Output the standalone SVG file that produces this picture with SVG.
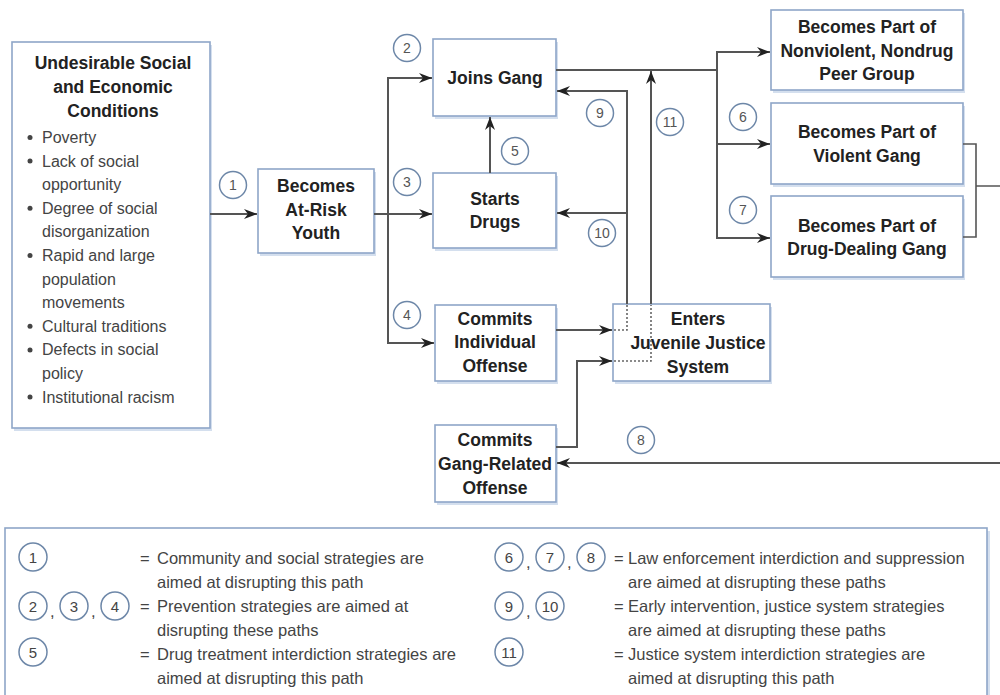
<svg xmlns="http://www.w3.org/2000/svg" width="1000" height="695" viewBox="0 0 1000 695">
<defs>
<marker id="arr" markerUnits="userSpaceOnUse" markerWidth="14" markerHeight="10" refX="13" refY="5" orient="auto">
<path d="M0,0 L13,5 L0,10 L4,5 Z" fill="#222"/>
</marker>
</defs>
<style>
.bg{fill:#ffffff}
.sh{fill:#d4dfee}
.box{fill:#ffffff;stroke:#8ea6c8;stroke-width:1.6}
.t{font-family:"Liberation Sans",Arial,sans-serif;font-weight:bold;font-size:17.5px;fill:#222;text-anchor:middle}
.b{font-family:"Liberation Sans",Arial,sans-serif;font-size:16px;fill:#444}
.lg{font-family:"Liberation Sans",Arial,sans-serif;font-size:16.5px;fill:#444}
.c{fill:#ffffff;stroke:#6d87a8;stroke-width:1.5}
.cn{font-family:"Liberation Sans",Arial,sans-serif;font-size:14px;fill:#555;text-anchor:middle}
.cl{font-family:"Liberation Sans",Arial,sans-serif;font-size:15px;fill:#444;text-anchor:middle}
.ln{fill:none;stroke:#555;stroke-width:2}
.dot{fill:none;stroke:#666;stroke-width:1.6;stroke-dasharray:2,2}
.dt{fill:#444}
</style>
<rect class="bg" x="0" y="0" width="1000" height="695"/>

<g id="conditions">
<rect class="sh" x="14" y="45" width="198" height="386"/>
<rect class="box" x="12" y="42" width="198" height="386"/>
<text class="t" x="113" y="69">Undesirable Social</text>
<text class="t" x="113" y="93">and Economic</text>
<text class="t" x="113" y="117">Conditions</text>
<circle class="dt" cx="30" cy="137.5" r="2.5"/><text class="b" x="42" y="143">Poverty</text>
<circle class="dt" cx="30" cy="161" r="2.5"/><text class="b" x="42" y="166.6">Lack of social</text>
<text class="b" x="42" y="190.2">opportunity</text>
<circle class="dt" cx="30" cy="208.3" r="2.5"/><text class="b" x="42" y="213.8">Degree of social</text>
<text class="b" x="42" y="237.4">disorganization</text>
<circle class="dt" cx="30" cy="255.5" r="2.5"/><text class="b" x="42" y="261">Rapid and large</text>
<text class="b" x="42" y="284.6">population</text>
<text class="b" x="42" y="308.2">movements</text>
<circle class="dt" cx="30" cy="326.3" r="2.5"/><text class="b" x="42" y="331.8">Cultural traditions</text>
<circle class="dt" cx="30" cy="349.9" r="2.5"/><text class="b" x="42" y="355.4">Defects in social</text>
<text class="b" x="42" y="379">policy</text>
<circle class="dt" cx="30" cy="397.1" r="2.5"/><text class="b" x="42" y="402.6">Institutional racism</text>
</g>

<g id="atrisk">
<rect class="sh" x="260" y="172" width="116" height="84"/>
<rect class="box" x="258" y="169" width="116" height="84"/>
<text class="t" x="316" y="192">Becomes</text>
<text class="t" x="316" y="216">At-Risk</text>
<text class="t" x="316" y="239">Youth</text>
</g>

<g id="joinsgang">
<rect class="sh" x="435" y="42" width="123" height="77"/>
<rect class="box" x="433" y="39" width="123" height="77"/>
<text class="t" x="495" y="84">Joins Gang</text>
</g>

<g id="startsdrugs">
<rect class="sh" x="435" y="176" width="123" height="75"/>
<rect class="box" x="433" y="173" width="123" height="75"/>
<text class="t" x="495" y="205">Starts</text>
<text class="t" x="495" y="228">Drugs</text>
</g>

<g id="individual">
<rect class="sh" x="437" y="308" width="121" height="76"/>
<rect class="box" x="435" y="305" width="121" height="76"/>
<text class="t" x="495" y="325">Commits</text>
<text class="t" x="495" y="348">Individual</text>
<text class="t" x="495" y="372">Offense</text>
</g>

<g id="juvenile">
<rect class="sh" x="615" y="307" width="157" height="77"/>
<rect class="box" x="613" y="304" width="157" height="77"/>
<text class="t" x="698" y="325">Enters</text>
<text class="t" x="698" y="349">Juvenile Justice</text>
<text class="t" x="698" y="373">System</text>
</g>

<g id="gangrelated">
<rect class="sh" x="437" y="428" width="121" height="77"/>
<rect class="box" x="435" y="425" width="121" height="77"/>
<text class="t" x="495" y="446">Commits</text>
<text class="t" x="495" y="470">Gang-Related</text>
<text class="t" x="495" y="494">Offense</text>
</g>

<g id="nonviolent">
<rect class="sh" x="773" y="13" width="192" height="80"/>
<rect class="box" x="771" y="10" width="192" height="80"/>
<text class="t" x="867" y="33">Becomes Part of</text>
<text class="t" x="867" y="57">Nonviolent, Nondrug</text>
<text class="t" x="867" y="80">Peer Group</text>
</g>

<g id="violent">
<rect class="sh" x="773" y="106" width="192" height="81"/>
<rect class="box" x="771" y="103" width="192" height="81"/>
<text class="t" x="867" y="138">Becomes Part of</text>
<text class="t" x="867" y="162">Violent Gang</text>
</g>

<g id="drugdealing">
<rect class="sh" x="773" y="199" width="192" height="81"/>
<rect class="box" x="771" y="196" width="192" height="81"/>
<text class="t" x="867" y="232">Becomes Part of</text>
<text class="t" x="867" y="255">Drug-Dealing Gang</text>
</g>

<g id="connectors">
<path class="ln" d="M210,214 L257,214" marker-end="url(#arr)"/>
<path class="ln" d="M374,214 L388,214 M388,77 L388,344"/>
<path class="ln" d="M388,78 L432,78" marker-end="url(#arr)"/>
<path class="ln" d="M388,214 L432,214" marker-end="url(#arr)"/>
<path class="ln" d="M388,343 L434,343" marker-end="url(#arr)"/>
<path class="ln" d="M490,173 L490,117" marker-end="url(#arr)"/>
<path class="ln" d="M556,70 L717,70 M717,51 L717,239"/>
<path class="ln" d="M717,52 L770,52" marker-end="url(#arr)"/>
<path class="ln" d="M717,144 L770,144" marker-end="url(#arr)"/>
<path class="ln" d="M717,238 L770,238" marker-end="url(#arr)"/>
<path class="ln" d="M627,304 L627,91 L557,91" marker-end="url(#arr)"/>
<path class="ln" d="M627,213 L557,213" marker-end="url(#arr)"/>
<path class="ln" d="M651,304 L651,71" marker-end="url(#arr)"/>
<path class="dot" d="M614,330 L627,330 L627,305 M614,361 L651,361 L651,305"/>
<path class="ln" d="M556,330 L612,330" marker-end="url(#arr)"/>
<path class="ln" d="M556,447 L577,447 L577,361 L612,361" marker-end="url(#arr)"/>
<path class="ln" d="M963,144 L976,144 L976,237 L963,237 M976,186 L1000,186" style="stroke-width:1.6"/>
<path class="ln" d="M1000,463 L557,463" marker-end="url(#arr)"/>
</g>

<g id="labels">
<circle class="c" cx="233" cy="185" r="13.5"/><text class="cn" x="233" y="190">1</text>
<circle class="c" cx="407" cy="48" r="13.5"/><text class="cn" x="407" y="53">2</text>
<circle class="c" cx="407" cy="182" r="13.5"/><text class="cn" x="407" y="187">3</text>
<circle class="c" cx="407" cy="315" r="13.5"/><text class="cn" x="407" y="320">4</text>
<circle class="c" cx="515" cy="151" r="13.5"/><text class="cn" x="515" y="156">5</text>
<circle class="c" cx="743" cy="117" r="13.5"/><text class="cn" x="743" y="122">6</text>
<circle class="c" cx="743" cy="210" r="13.5"/><text class="cn" x="743" y="215">7</text>
<circle class="c" cx="641" cy="440" r="13.5"/><text class="cn" x="641" y="445">8</text>
<circle class="c" cx="600" cy="113" r="13.5"/><text class="cn" x="600" y="118">9</text>
<circle class="c" cx="602" cy="233" r="13.5"/><text class="cn" x="602" y="238">10</text>
<circle class="c" cx="670" cy="122" r="13.5"/><text class="cn" x="670" y="127">11</text>
</g>

<g id="legend">
<rect class="sh" x="8" y="531" width="982" height="180"/>
<rect class="box" x="5" y="528" width="982" height="180"/>
<circle class="c" cx="33" cy="557" r="14"/><text class="cl" x="33" y="562.5">1</text>
<text class="lg" x="140" y="564">=</text>
<text class="lg" x="157" y="564">Community and social strategies are</text>
<text class="lg" x="157" y="588">aimed at disrupting this path</text>
<circle class="c" cx="33" cy="606" r="14"/><text class="cl" x="33" y="611.5">2</text>
<text class="lg" x="50" y="617">,</text>
<circle class="c" cx="74" cy="606" r="14"/><text class="cl" x="74" y="611.5">3</text>
<text class="lg" x="91" y="617">,</text>
<circle class="c" cx="115" cy="606" r="14"/><text class="cl" x="115" y="611.5">4</text>
<text class="lg" x="140" y="612">=</text>
<text class="lg" x="157" y="612">Prevention strategies are aimed at</text>
<text class="lg" x="157" y="636">disrupting these paths</text>
<circle class="c" cx="33" cy="652" r="14"/><text class="cl" x="33" y="657.5">5</text>
<text class="lg" x="140" y="660">=</text>
<text class="lg" x="157" y="660">Drug treatment interdiction strategies are</text>
<text class="lg" x="157" y="684">aimed at disrupting this path</text>

<circle class="c" cx="509" cy="557" r="14"/><text class="cl" x="509" y="562.5">6</text>
<text class="lg" x="526" y="568">,</text>
<circle class="c" cx="550" cy="557" r="14"/><text class="cl" x="550" y="562.5">7</text>
<text class="lg" x="567" y="568">,</text>
<circle class="c" cx="591" cy="557" r="14"/><text class="cl" x="591" y="562.5">8</text>
<text class="lg" x="614" y="564">=</text>
<text class="lg" x="628" y="564">Law enforcement interdiction and suppression</text>
<text class="lg" x="628" y="588">are aimed at disrupting these paths</text>
<circle class="c" cx="509" cy="606" r="14"/><text class="cl" x="509" y="611.5">9</text>
<text class="lg" x="526" y="617">,</text>
<circle class="c" cx="550" cy="606" r="14"/><text class="cl" x="550" y="611.5">10</text>
<text class="lg" x="614" y="612">=</text>
<text class="lg" x="628" y="612">Early intervention, justice system strategies</text>
<text class="lg" x="628" y="636">are aimed at disrupting these paths</text>
<circle class="c" cx="509" cy="652" r="14"/><text class="cl" x="509" y="657.5">11</text>
<text class="lg" x="614" y="660">=</text>
<text class="lg" x="628" y="660">Justice system interdiction strategies are</text>
<text class="lg" x="628" y="684">aimed at disrupting this path</text>
</g>
</svg>
